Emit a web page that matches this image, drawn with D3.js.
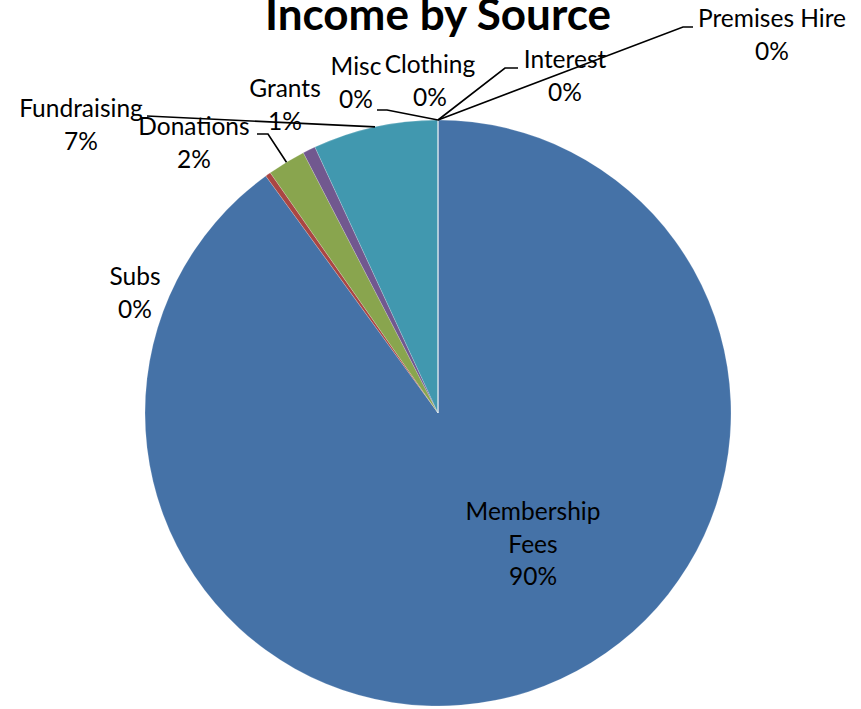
<!DOCTYPE html>
<html lang="en">
<head>
<meta charset="utf-8">
<title>Income by Source</title>
<script src="https://d3js.org/d3.v7.min.js"></script>
<style>
  body { margin: 0; background: #fff; }
  svg text { font-family: Lato, "Open Sans", sans-serif; fill: #000; }
</style>
</head>
<body>
<div id="chart"></div>
<script>
// data (percent of total income)
var categories = ["Membership Fees", "Subs", "Donations", "Grants", "Fundraising",
                  "Misc", "Clothing", "Interest", "Premises Hire"];
var values = [90.0, 0.3, 2.1, 0.7, 6.9, 0, 0, 0, 0];
var colours = ["#4572A7", "#AA4643", "#89A54E", "#71588F", "#4198AF",
               "#DB843D", "#93A9CF", "#D19392", "#B9CD96"];

// label layout: centre x and first baseline of the label block, and the bent leader (if any)
var labelPos = [
  { x: 533, y: 520, lines: ["Membership", "Fees"] },
  { x: 135, y: 285 },
  { x: 194, y: 135, elbow: [[257, 134], [268, 134]] },
  { x: 285, y: 97 },
  { x: 81, y: 117, elbow: [[147, 116]] },
  { x: 356, y: 75, elbow: [[377, 110], [387, 110]] },
  { x: 430, y: 73 },
  { x: 565, y: 68, elbow: [[518, 68], [505, 68]] },
  { x: 772, y: 27, elbow: [[693, 27], [683, 27]] }
];

var W = 861, H = 709;
var cx = 438, cy = 413, r = 293;
var lineH = 32.5;

var svg = d3.select("#chart").append("svg")
  .attr("width", W).attr("height", H);

svg.append("text")
  .attr("x", cx).attr("y", 30)
  .attr("text-anchor", "middle")
  .style("font-size", "44px").style("font-weight", "bold")
  .text("Income by Source");

var pie = d3.pie().sort(null).value(function(d) { return d; });
var arcs = pie(values);
var arc = d3.arc().innerRadius(0).outerRadius(r);

var g = svg.append("g").attr("transform", "translate(" + cx + "," + cy + ")");

g.selectAll("path.slice")
  .data(arcs)
  .enter().append("path")
  .attr("class", "slice")
  .attr("d", arc)
  .attr("fill", function(d, i) { return colours[i]; })
  .attr("stroke", "#ffffff")
  .attr("stroke-opacity", 0.3)
  .attr("stroke-width", 0.6);

// leader lines: from the elbow to the slice edge at its mid angle
arcs.forEach(function(a, i) {
  var lp = labelPos[i];
  if (!lp.elbow) return;
  var mid = (a.startAngle + a.endAngle) / 2;
  var ax = cx + r * Math.sin(mid), ay = cy - r * Math.cos(mid);
  var pts = lp.elbow.concat([[ax, ay]]);
  svg.append("path")
    .attr("d", d3.line()(pts))
    .attr("fill", "none")
    .attr("stroke", "#000")
    .attr("stroke-width", 1.6);
});

var pct = d3.format(".0%");
var total = d3.sum(values);

arcs.forEach(function(a, i) {
  var lp = labelPos[i];
  var lines = (lp.lines || [categories[i]]).concat([pct(values[i] / total)]);
  var t = svg.append("text")
    .attr("text-anchor", "middle")
    .style("font-size", "24.5px");
  lines.forEach(function(s, k) {
    t.append("tspan")
      .attr("x", lp.x)
      .attr("y", lp.y + k * lineH)
      .text(s);
  });
});
</script>
</body>
</html>
